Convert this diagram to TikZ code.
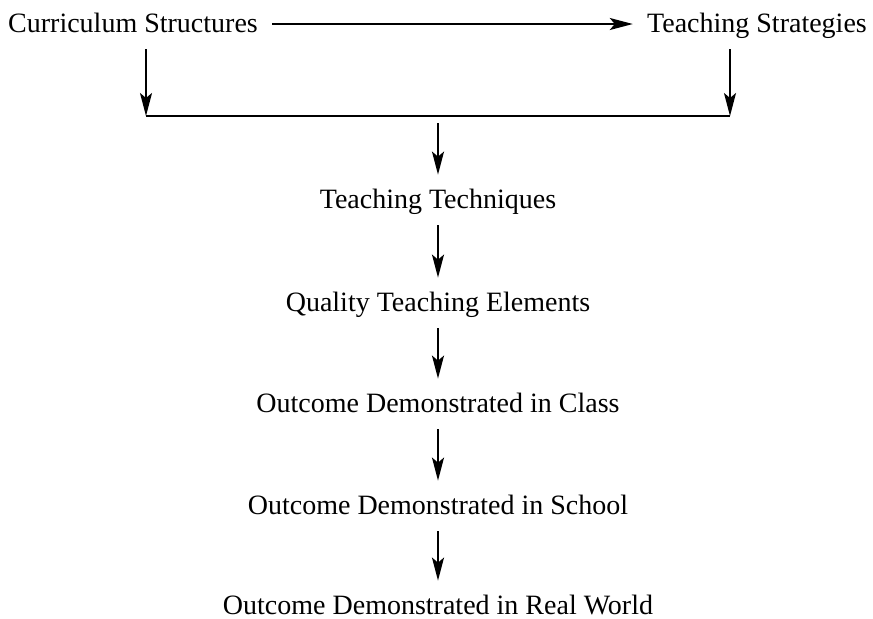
\documentclass[tikz,border=0pt]{standalone}
\usepackage{fontspec}
\setmainfont{Liberation Serif}
\usetikzlibrary{arrows.meta}

\begin{document}
\begin{tikzpicture}[x=0.5pt, y=-0.5pt]
   \tikzstyle{every node}=[font=\fontsize{14}{16}\selectfont, anchor=base, text height=10pt, text depth=2pt, inner xsep=7pt, inner ysep=6.5pt]
   \tikzstyle{flow}=[line width=1pt, -{Stealth[length=11.5pt, width=6pt, inset=2.5pt]}]

\useasboundingbox (0,0) rectangle (873,618);

% top row
\node (cs) at (133,32) {Curriculum Structures};
\node (ts) at (757,32) {Teaching Strategies};

% the chain below
\node (tt) at (438,208) {Teaching Techniques};
\node (qt) at (438,311) {Quality Teaching Elements};
\node (oc) at (438,412) {Outcome Demonstrated in Class};
\node (os) at (438,514) {Outcome Demonstrated in School};
\node (ow) at (438,614) {Outcome Demonstrated in Real World};

% joining bar
\coordinate (jl) at (146,116);
\coordinate (jr) at (730,116);
\coordinate (jm) at (438,123);

\draw[flow] (cs) -- (ts);
\draw[flow] (cs.south -| jl) -- (jl);
\draw[flow] (ts.south -| jr) -- (jr);
\draw[line width=1pt] (jl) -- (jr);

\draw[flow] (jm) -- (tt);
\draw[flow] (tt) -- (qt);
\draw[flow] (qt) -- (oc);
\draw[flow] (oc) -- (os);
\draw[flow] (os) -- (ow);

\end{tikzpicture}
\end{document}
